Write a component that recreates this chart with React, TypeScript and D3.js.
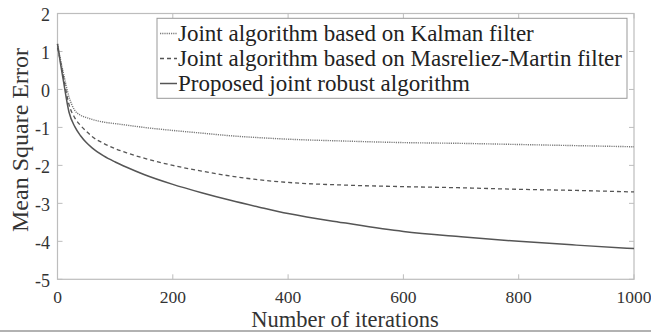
import React, { useEffect, useRef } from "react";
import * as d3 from "d3";

const iterations = [0, 5, 10, 20, 30, 40, 50, 60, 80, 100, 120, 150, 200, 250, 300, 350, 400, 500, 600, 700, 800, 900, 1000];
const kalman = [1.2, 0.8, 0.45, -0.2, -0.55, -0.68, -0.74, -0.79, -0.86, -0.9, -0.94, -1.0, -1.08, -1.15, -1.22, -1.27, -1.31, -1.36, -1.4, -1.42, -1.45, -1.48, -1.51];
const masreliez = [1.1, 0.75, 0.35, -0.4, -0.75, -0.95, -1.1, -1.24, -1.42, -1.56, -1.67, -1.81, -2.0, -2.15, -2.28, -2.38, -2.45, -2.52, -2.56, -2.59, -2.63, -2.66, -2.7];
const proposed = [1.2, 0.7, 0.25, -0.6, -0.98, -1.22, -1.4, -1.54, -1.75, -1.91, -2.05, -2.24, -2.5, -2.72, -2.92, -3.1, -3.27, -3.52, -3.74, -3.88, -4.0, -4.1, -4.19];

const seriesNames = [
  "Joint algorithm based on Kalman filter",
  "Joint algorithm based on Masreliez-Martin filter",
  "Proposed joint robust algorithm",
];
const xTicks = [0, 200, 400, 600, 800, 1000];
const yTicks = [2, 1, 0, -1, -2, -3, -4, -5];

const FONT = '"Liberation Serif", "Times New Roman", Times, serif';

export default function App() {
  const ref = useRef<SVGSVGElement>(null);

  useEffect(() => {
    const svg = d3.select(ref.current);
    svg.selectAll("*").remove();

    const left = 57.5, right = 634, top = 13.5, bottom = 279.3;

    const x = d3.scaleLinear().domain([0, 1000]).range([left, right]);
    const y = d3.scaleLinear().domain([-5, 2]).range([bottom, top]);

    const axisColor = "#bdbdbd";
    const g = svg.append("g").style("font-family", FONT);

    // box
    g.append("rect")
      .attr("x", left).attr("y", top)
      .attr("width", right - left).attr("height", bottom - top)
      .attr("fill", "none").attr("stroke", axisColor).attr("stroke-width", 1.2);

    // inward ticks on all four sides
    xTicks.forEach((t) => {
      g.append("line").attr("x1", x(t)).attr("x2", x(t)).attr("y1", bottom).attr("y2", bottom - 5)
        .attr("stroke", axisColor);
      g.append("line").attr("x1", x(t)).attr("x2", x(t)).attr("y1", top).attr("y2", top + 5)
        .attr("stroke", axisColor);
    });
    yTicks.forEach((t) => {
      g.append("line").attr("x1", left).attr("x2", left + 5).attr("y1", y(t)).attr("y2", y(t))
        .attr("stroke", axisColor);
      g.append("line").attr("x1", right).attr("x2", right - 5).attr("y1", y(t)).attr("y2", y(t))
        .attr("stroke", axisColor);
    });

    g.selectAll(".xlab")
      .data(xTicks)
      .join("text")
      .attr("x", (d) => x(d))
      .attr("y", 302.5)
      .attr("text-anchor", "middle")
      .style("font-family", FONT)
      .style("font-size", "17.5px")
      .attr("fill", "#333")
      .text((d) => d);

    g.selectAll(".ylab")
      .data(yTicks)
      .join("text")
      .attr("x", 50)
      .attr("y", (d) => y(d) + 7.5)
      .attr("text-anchor", "end")
      .style("font-family", FONT)
      .style("font-size", "18px")
      .attr("fill", "#333")
      .text((d) => d);

    g.append("text")
      .attr("x", 345)
      .attr("y", 327)
      .attr("text-anchor", "middle")
      .style("font-family", FONT)
      .style("font-size", "22.5px")
      .attr("fill", "#333")
      .text("Number of iterations");

    g.append("text")
      .attr("transform", "translate(28, 140) rotate(-90)")
      .attr("text-anchor", "middle")
      .style("font-family", FONT)
      .style("font-size", "24px")
      .attr("fill", "#333")
      .text("Mean Square Error");

    const styles = [
      { data: kalman, dash: "1.2,1", color: "#7a7a7a", width: 1.4 },
      { data: masreliez, dash: "4,3", color: "#555", width: 1.3 },
      { data: proposed, dash: null, color: "#555", width: 1.5 },
    ];

    const line = d3.line<number>()
      .x((_, i) => x(iterations[i]))
      .y((d) => y(d))
      .curve(d3.curveMonotoneX);

    styles.forEach((s) => {
      g.append("path")
        .attr("d", line(s.data))
        .attr("fill", "none")
        .attr("stroke", s.color)
        .attr("stroke-width", s.width)
        .attr("stroke-dasharray", s.dash);
    });

    // legend
    const lg = g.append("g");
    lg.append("rect")
      .attr("x", 157).attr("y", 18.3)
      .attr("width", 470).attr("height", 80)
      .attr("fill", "white").attr("stroke", "#999").attr("stroke-width", 1);
    styles.forEach((s, i) => {
      const cy = 33.5 + i * 25;
      lg.append("line")
        .attr("x1", 160).attr("x2", 177).attr("y1", cy).attr("y2", cy)
        .attr("stroke", s.color).attr("stroke-width", s.width)
        .attr("stroke-dasharray", s.dash);
      lg.append("text")
        .attr("x", 178)
        .attr("y", 41 + i * 25)
        .style("font-family", FONT)
        .style("font-size", "23px")
        .attr("fill", "#222")
        .text(seriesNames[i]);
    });

    // grey rule across the bottom of the picture
    g.append("line")
      .attr("x1", 0).attr("x2", 651).attr("y1", 331).attr("y2", 331)
      .attr("stroke", "#999").attr("stroke-width", 1.5);
  }, []);

  return (
    <svg
      ref={ref}
      width={651}
      height={335}
      style={{ position: "absolute", left: 0, top: 0, background: "white" }}
    />
  );
}
